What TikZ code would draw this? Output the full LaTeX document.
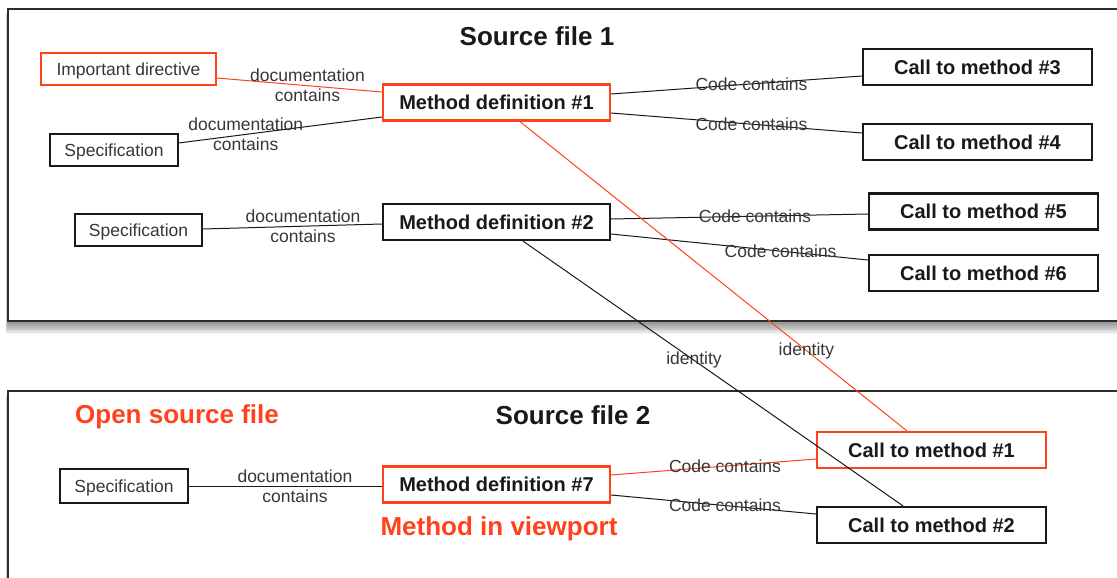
\documentclass[tikz,border=0pt]{standalone}
\usepackage{fontspec}
\setmainfont{Liberation Sans}
\usetikzlibrary{calc}
\definecolor{accent}{RGB}{255,66,28}
\definecolor{ink}{RGB}{25,25,25}
\definecolor{soft}{RGB}{55,55,55}
\definecolor{rim}{RGB}{45,45,45}
\begin{document}
\begin{tikzpicture}[x=1pt,y=-1pt,
  frame/.style={draw=rim, line width=2pt, fill=white},
  mbox/.style={draw=ink, line width=2.2pt, fill=white, text=ink, inner sep=0pt, text depth=0pt,
    minimum width=227pt, minimum height=36pt, font=\fontsize{20}{24}\selectfont\bfseries},
  cbox/.style={mbox, minimum width=229pt},
  sbox/.style={draw=ink, line width=1.3pt, fill=white, text=soft, inner sep=0pt, text depth=0pt,
    minimum height=32pt, font=\fontsize{17.5}{20}\selectfont},
  hot/.style={draw=accent},
  lbl/.style={text=soft, align=center, inner sep=0pt, font=\fontsize{17.5}{20}\selectfont},
  link/.style={draw=ink, line width=1pt},
  hotlink/.style={draw=accent, line width=1pt},
  title/.style={text=ink, font=\fontsize{26}{30}\selectfont\bfseries},
  note/.style={text=accent, font=\fontsize{26}{30}\selectfont\bfseries}
]
\useasboundingbox (0,0) rectangle (1117,578);
\clip (0,0) rectangle (1117,578);
\fill[white] (0,0) rectangle (1117,578);

% soft shadows under the two file panels
\foreach \i in {1,...,10} {
  \fill[black,opacity=0.05] (8-0.25*\i,9+0.6*\i) rectangle (1130,321+1.3*\i);
  \fill[black,opacity=0.05] (8-0.25*\i,391+0.6*\i) rectangle (1130,600);
}
% file panels
\draw[frame] (8,9) rectangle (1130,321);
\draw[frame] (8,391) rectangle (1130,600);

% headings
\node[title] (t1) at (537,36) {Source file 1};
\node[title] (t2) at (573,415) {Source file 2};
\node[note] (n1) at (177,417) {Open source file};
\node[note] (n2) at (499,529) {Method in viewport};

% source file 1
\node[sbox, hot, minimum width=175pt] (imp) at (128.5,69) {Important directive};
\node[sbox, minimum width=128pt] (spa) at (114,150) {Specification};
\node[sbox, minimum width=127pt] (spb) at (138.5,230) {Specification};
\node[mbox, hot] (md1) at (496.5,102.5) {Method definition \#1};
\node[mbox] (md2) at (496.5,222) {Method definition \#2};
\node[cbox] (c3) at (977.5,67) {Call to method \#3};
\node[cbox] (c4) at (977.5,142) {Call to method \#4};
\node[cbox] (c5) at (983.5,211.5) {Call to method \#5};
\node[cbox] (c6) at (983.5,273) {Call to method \#6};

% source file 2
\node[sbox, minimum width=128pt, minimum height=34pt] (spc) at (124,486) {Specification};
\node[mbox, hot] (md7) at (496.5,484.5) {Method definition \#7};
\node[cbox, hot] (c1) at (931.5,450) {Call to method \#1};
\node[cbox] (c2) at (931.5,525) {Call to method \#2};

% documentation links
\draw[hotlink] ($(imp.east)+(0,9)$) -- node[lbl,pos=0.55] (d1) {documentation\\contains} ($(md1.west)+(0,-10.5)$);
\draw[link] ($(spa.east)+(0,-7)$) -- node[lbl,pos=0.33] (d2) {documentation\\contains} ($(md1.west)+(0,14.5)$);
\draw[link] ($(spb.east)+(0,-1)$) -- node[lbl,pos=0.56] (d3) {documentation\\contains} ($(md2.west)+(0,2)$);
\draw[link] ($(spc.east)+(0,0)$) -- node[lbl,pos=0.55] (d4) {documentation\\contains} ($(md7.west)+(0,1.5)$);

% code links
\draw[link] ($(md1.east)+(0,-8.5)$) -- node[lbl,pos=0.56] (k3) {Code contains} ($(c3.west)+(0,9)$);
\draw[link] ($(md1.east)+(0,10.5)$) -- node[lbl,pos=0.56] (k4) {Code contains} ($(c4.west)+(0,-9)$);
\draw[link] ($(md2.east)+(0,-3)$) -- node[lbl,pos=0.56] (k5) {Code contains} ($(c5.west)+(0,2.5)$);
\draw[link] ($(md2.east)+(0,12)$) -- node[lbl,pos=0.66] (k6) {Code contains} ($(c6.west)+(0,-13)$);
\draw[hotlink] ($(md7.east)+(0,-9.5)$) -- node[lbl,pos=0.556] (k1) {Code contains} ($(c1.west)+(0,9)$);
\draw[link] ($(md7.east)+(0,10.5)$) -- node[lbl,pos=0.556] (k2) {Code contains} ($(c2.west)+(0,-11)$);

% identity links between files
\draw[hotlink] ($(md1.south)+(23.5,0)$) -- node[lbl,pos=0.74] (i1) {identity} ($(c1.north)+(-24.5,0)$);
\draw[link] ($(md2.south)+(26.5,0)$) -- node[lbl,pos=0.45] (i2) {identity} ($(c2.north)+(-28.5,0)$);
\end{tikzpicture}
\end{document}
